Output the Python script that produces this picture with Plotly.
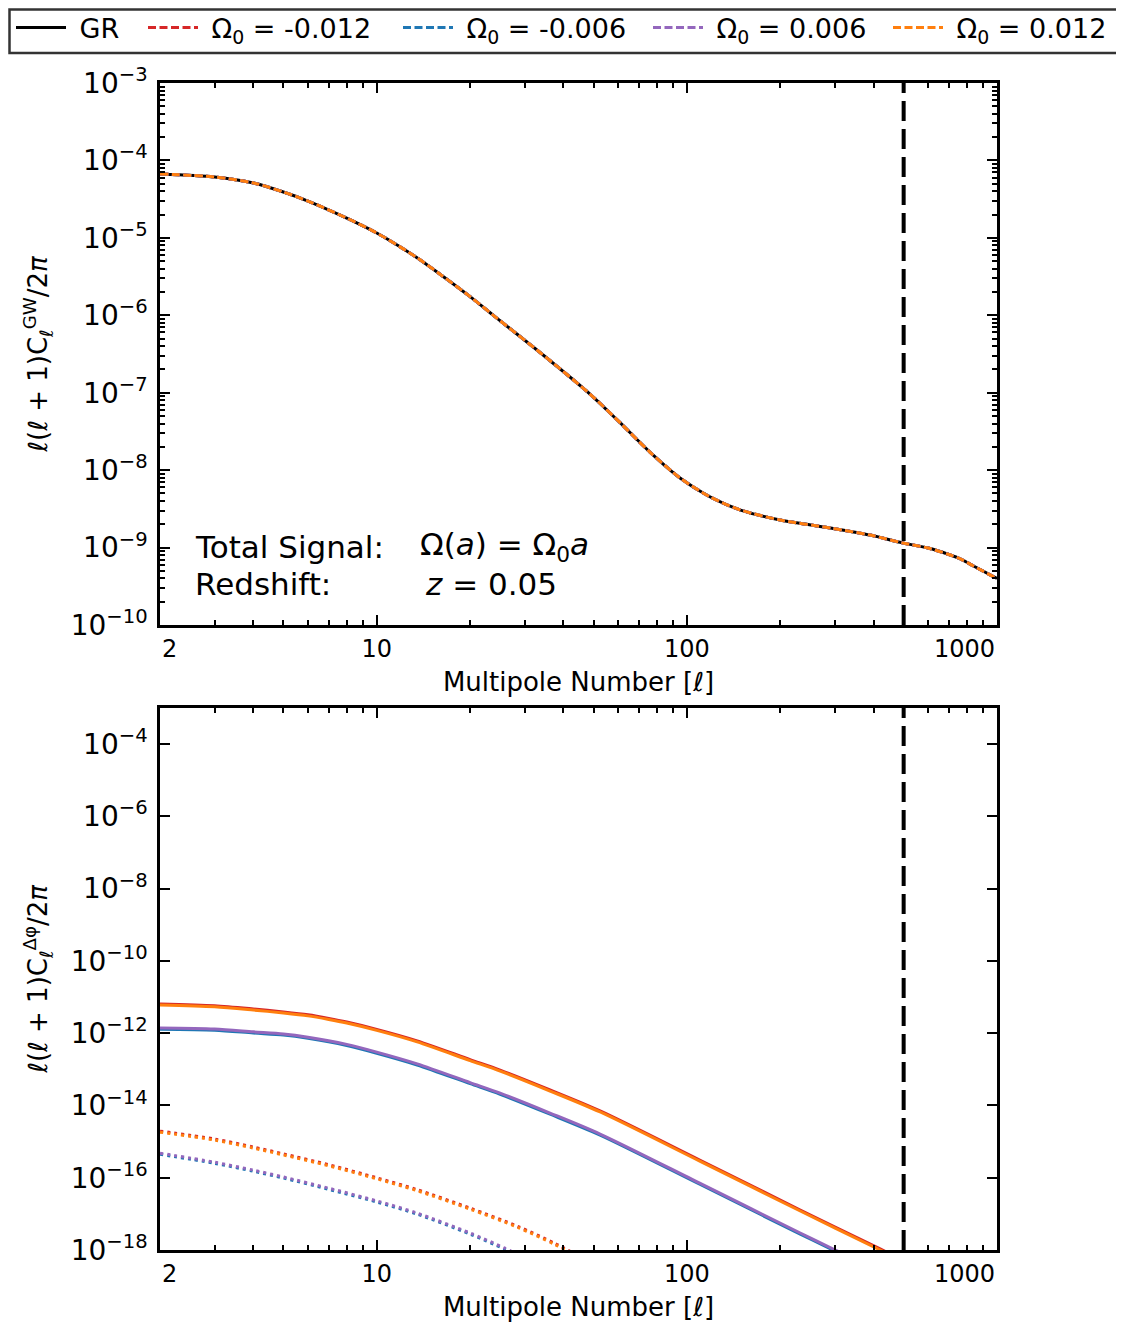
import math
import plotly.graph_objects as go

# ---------------- data ----------------
# Top panel: total GW signal (all curves coincide)
ELL_TOP = [2, 3, 4, 5, 6, 8, 10, 13.3, 16, 20, 24.1, 33.6, 48.8, 61, 76, 95, 119, 149,
           200, 290, 390, 495, 600, 692, 770, 840, 1000]
C_GW_GR = [6.68e-5, 6.11e-5, 5.12e-5, 3.91e-5, 2.99e-5, 1.80e-5, 1.156e-5, 5.75e-6, 3.39e-6,
           1.74e-6, 9.55e-7, 3.31e-7, 9.55e-8, 4.07e-8, 1.71e-8, 7.93e-9, 4.50e-9, 3.05e-9,
           2.27e-9, 1.79e-9, 1.45e-9, 1.15e-9, 9.86e-10, 8.26e-10, 7.01e-10, 5.78e-10, 3.98e-10]
# the four modified-gravity curves are indistinguishable from GR in the top panel
C_GW_OMEGA = C_GW_GR

OMEGA_LABELS = ["-0.012", "-0.006", "0.006", "0.012"]
COLORS = ["#d62728", "#1f77b4", "#9467bd", "#ff7f0e"]

# Bottom panel: solid curves
ELL_SOLID_BIG = [2, 3, 4, 5, 6, 7, 8, 10, 13.5, 20, 25, 36.2, 52.5, 110, 232, 420, 500]
DPHI_M012 = [6.45e-12, 5.75e-12, 4.68e-12, 3.88e-12, 3.23e-12, 2.57e-12, 2.04e-12, 1.28e-12,
             6.15e-13, 1.86e-13, 9.53e-14, 2.69e-14, 7.06e-15, 3.08e-16, 1.28e-17, 1.07e-18, 5.1e-19]
DPHI_P012 = [6.03e-12, 5.37e-12, 4.37e-12, 3.63e-12, 3.02e-12, 2.40e-12, 1.91e-12, 1.20e-12,
             5.75e-13, 1.74e-13, 8.91e-14, 2.51e-14, 6.6e-15, 2.88e-16, 1.20e-17, 1.0e-18, 4.8e-19]
ELL_SOLID_SMALL = [2, 3, 4, 5, 6, 8, 10, 13.5, 20, 25, 36.2, 52.5, 110, 232, 301, 420]
DPHI_M006 = [1.29e-12, 1.21e-12, 1.01e-12, 8.88e-13, 7.22e-13, 4.56e-13, 2.79e-13, 1.32e-13,
             4.0e-14, 2.04e-14, 5.74e-15, 1.51e-15, 6.6e-17, 2.74e-18, 9.3e-19, 2.3e-19]
DPHI_P006 = [1.39e-12, 1.30e-12, 1.09e-12, 9.55e-13, 7.76e-13, 4.9e-13, 3.0e-13, 1.42e-13,
             4.3e-14, 2.19e-14, 6.17e-15, 1.62e-15, 7.08e-17, 2.95e-18, 1.0e-18, 2.5e-19]

# Bottom panel: dotted curves
ELL_DOT_BIG = [2, 3, 4, 5, 7, 10, 13.5, 20, 28.4, 37.6, 45]
DOT_M012 = [1.95e-15, 1.18e-15, 7.07e-16, 4.57e-16, 2.29e-16, 9.95e-17, 4.68e-17, 1.44e-17,
            4.57e-18, 1.51e-18, 6.7e-19]
DOT_P012 = [1.82e-15, 1.10e-15, 6.61e-16, 4.27e-16, 2.14e-16, 9.3e-17, 4.37e-17, 1.35e-17,
            4.27e-18, 1.41e-18, 6.3e-19]
ELL_DOT_SMALL = [2, 3, 4, 5, 7, 10, 13.5, 20, 25.9, 32]
DOT_M006 = [4.46e-16, 2.50e-16, 1.51e-16, 9.8e-17, 4.77e-17, 2.13e-17, 9.8e-18, 2.75e-18,
            1.04e-18, 4.2e-19]
DOT_P006 = [4.79e-16, 2.69e-16, 1.62e-16, 1.05e-16, 5.13e-17, 2.29e-17, 1.05e-17, 2.95e-18,
            1.12e-18, 4.5e-19]

ELL_CUT = 500
X_TICKS = [2, 10, 100, 1000]
X_MINOR = [3, 4, 5, 6, 7, 8, 9, 20, 30, 40, 50, 60, 70, 80, 90,
           200, 300, 400, 500, 600, 700, 800, 900]
TOP_EXP = list(range(-10, -2))
BOT_EXP = list(range(-18, -3, 2))

# ---------------- figure ----------------
FONT = "DejaVu Sans"
NB = "\u00a0"

# page has an 8px body margin: figure is placed at (8, 8)
W, H = 1116, 1318
L, R, T, B = 152, 127, 75, 76
pw = W - L - R
ph = H - T - B
top_dom = [(1242 - 617) / ph, 1.0]
bot_dom = [0.0, (1242 - 700) / ph]


def px_x(fx):
    return (fx - L) / pw


def px_y(fy):
    return 1 + (T - fy) / ph


fig = go.Figure()

SPL = dict(shape="spline", smoothing=0.8)
DASH = "8px,3.5px"
LEGEND_IDS = ["legend", "legend2", "legend3", "legend4", "legend5"]
LEGEND_LEFT = [3, 135, 390, 640, 880]  # figure px of each legend entry's left edge

fig.add_trace(go.Scatter(x=ELL_TOP, y=C_GW_GR, mode="lines", name=NB + "GR",
                         line=dict(color="black", width=3, **SPL), xaxis="x", yaxis="y",
                         legend=LEGEND_IDS[0]))
for i, (lab, col) in enumerate(zip(OMEGA_LABELS, COLORS)):
    fig.add_trace(go.Scatter(x=ELL_TOP, y=C_GW_OMEGA, mode="lines",
                             name=NB + "Ω<sub>0</sub> = " + lab,
                             line=dict(color=col, width=3, dash=DASH, **SPL),
                             xaxis="x", yaxis="y", legend=LEGEND_IDS[i + 1]))

bottom = [
    (ELL_SOLID_BIG, DPHI_M012, COLORS[0], "solid"),
    (ELL_SOLID_SMALL, DPHI_M006, COLORS[1], "solid"),
    (ELL_SOLID_SMALL, DPHI_P006, COLORS[2], "solid"),
    (ELL_SOLID_BIG, DPHI_P012, COLORS[3], "solid"),
    (ELL_DOT_BIG, DOT_M012, COLORS[0], "3px,4px"),
    (ELL_DOT_SMALL, DOT_M006, COLORS[1], "3px,4px"),
    (ELL_DOT_SMALL, DOT_P006, COLORS[2], "3px,4px"),
    (ELL_DOT_BIG, DOT_P012, COLORS[3], "3px,4px"),
]
for xs, ys, col, dash in bottom:
    fig.add_trace(go.Scatter(x=xs, y=ys, mode="lines", showlegend=False,
                             line=dict(color=col, width=3, dash=dash, **SPL),
                             xaxis="x2", yaxis="y2"))

# vertical cut line in both panels
for xr, yref in (("x", "y domain"), ("x2", "y2 domain")):
    fig.add_shape(type="line", xref=xr, yref=yref, x0=ELL_CUT, x1=ELL_CUT, y0=0, y1=1,
                  line=dict(color="black", width=4, dash="20px,8px"))

# legend frame spanning the full width
fig.add_shape(type="rect", xref="paper", yref="paper",
              x0=px_x(1.5), x1=px_x(1111), y0=px_y(1.5), y1=px_y(45),
              line=dict(color="#333333", width=2.5), fillcolor="white", layer="below")

TICKFONT_X = dict(size=24, color="black", family=FONT)


def xaxis(anchor):
    return dict(type="log", range=[math.log10(2), 3], anchor=anchor, automargin=False,
                showline=True, linecolor="black", linewidth=2.5, mirror="ticks",
                ticks="inside", ticklen=10, tickwidth=2, tickcolor="black",
                tickvals=X_TICKS, ticktext=["", "10", "100", ""],
                tickfont=TICKFONT_X, ticklabelstandoff=0,
                minor=dict(ticks="inside", ticklen=5, tickwidth=1.5, tickcolor="black",
                           tickmode="array", tickvals=X_MINOR, showgrid=False),
                showgrid=False, zeroline=False,
                title=dict(text="Multipole Number [<i>ℓ</i>]",
                           font=dict(size=26, color="black", family=FONT), standoff=12))


def sup(e):
    return "10<sup>−%d</sup>" % (-e)


def yaxis(rng, dom, anchor, exps, minor_vals, title):
    d = dict(type="log", range=rng, domain=dom, anchor=anchor, automargin=False,
             showline=True, linecolor="black", linewidth=2.5, mirror="ticks",
             ticks="inside", ticklen=10, tickwidth=2, tickcolor="black",
             tickvals=[10.0 ** e for e in exps], ticktext=[sup(e) for e in exps],
             tickfont=dict(size=28, color="black", family=FONT), ticklabelstandoff=4,
             showgrid=False, zeroline=False,
             title=dict(text=title, font=dict(size=26, color="black", family=FONT), standoff=16))
    if minor_vals:
        d["minor"] = dict(ticks="inside", ticklen=5, tickwidth=1.5, tickcolor="black",
                          tickmode="array", tickvals=minor_vals, showgrid=False)
    return d


top_minor = [m * 10.0 ** e for e in TOP_EXP[:-1] for m in range(2, 10)]

legend_style = dict(orientation="h", xanchor="left", yanchor="middle",
                    bgcolor="rgba(0,0,0,0)", borderwidth=0,
                    font=dict(size=27, color="black", family=FONT), itemwidth=50)
legends = {}
for lid, lx in zip(LEGEND_IDS, LEGEND_LEFT):
    legends[lid] = dict(legend_style, x=px_x(lx), y=px_y(20))

fig.update_layout(
    width=W, height=H,
    margin=dict(l=L, r=R, t=T, b=B, autoexpand=False),
    paper_bgcolor="white", plot_bgcolor="white",
    font=dict(family=FONT, color="black"),
    xaxis=xaxis("y"),
    xaxis2=xaxis("y2"),
    yaxis=yaxis([-10, -3], top_dom, "x", TOP_EXP, top_minor,
                "<i>ℓ</i>(<i>ℓ</i> + 1)C<sub><i>ℓ</i></sub><sup>GW</sup>/2<i>π</i>"),
    yaxis2=yaxis([-18, -3], bot_dom, "x2", BOT_EXP, None,
                 "<i>ℓ</i>(<i>ℓ</i> + 1)C<sub><i>ℓ</i></sub><sup>Δφ</sup>/2<i>π</i>"),
    showlegend=True,
    **legends,
)

# edge tick labels (first left-aligned, last right-aligned)
for xa, ya in (("x", "y"), ("x2", "y2")):
    fig.add_annotation(text="2", xref=xa + " domain", yref=ya + " domain", x=0, y=0,
                       xanchor="left", yanchor="top", yshift=-8, showarrow=False,
                       font=TICKFONT_X)
    fig.add_annotation(text="1000", xref=xa + " domain", yref=ya + " domain", x=1, y=0,
                       xanchor="right", yanchor="top", yshift=-8, showarrow=False,
                       font=TICKFONT_X)

# in-plot text
txt_font = dict(size=31, color="black", family=FONT)
fig.add_annotation(text="Total Signal:", xref="x domain", yref="y domain", x=0.04, y=0.144,
                   xanchor="left", yanchor="middle", showarrow=False, font=txt_font)
fig.add_annotation(text="Redshift:", xref="x domain", yref="y domain", x=0.04, y=0.0756,
                   xanchor="left", yanchor="middle", showarrow=False, font=txt_font)
fig.add_annotation(text="Ω(<i>a</i>) = Ω<sub>0</sub><i>a</i>", xref="x domain", yref="y domain",
                   x=0.308, y=0.144, xanchor="left", yanchor="middle", showarrow=False, font=txt_font)
fig.add_annotation(text="<i>z</i> = 0.05", xref="x domain", yref="y domain",
                   x=0.314, y=0.0756, xanchor="left", yanchor="middle", showarrow=False, font=txt_font)

fig.write_html("out.html")
